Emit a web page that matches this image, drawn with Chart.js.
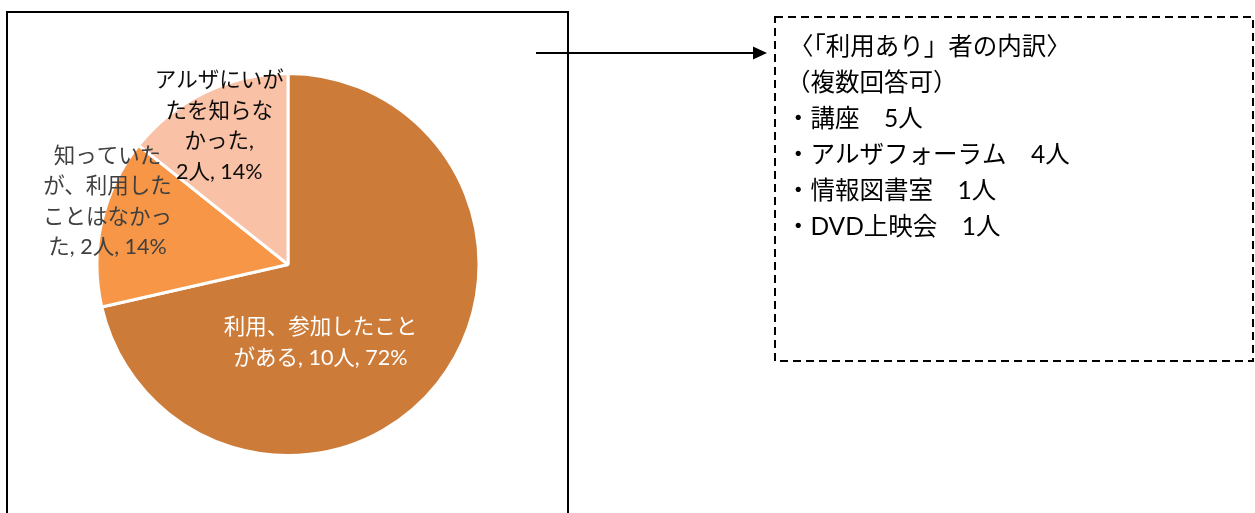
<!DOCTYPE html>
<html lang="ja">
<head>
<meta charset="utf-8">
<script src="https://cdn.jsdelivr.net/npm/chart.js@4/dist/chart.umd.min.js"></script>
<style>
  html, body { margin: 0; padding: 0; background: #fff; }
  #wrap { position: relative; width: 1255px; height: 513px; }
</style>
</head>
<body>
<div id="wrap"><canvas id="pie" width="1255" height="513"></canvas></div>
<script>
// data
const categories = ['利用、参加したことがある', '知っていたが、利用したことはなかった', 'アルザにいがたを知らなかった'];
const counts = [10, 2, 2];
const percents = [72, 14, 14];
const sliceColors = ['#CC7B39', '#F79646', '#F9C1A5'];

const breakdownTitle = ['〈「利用あり」者の内訳〉', '（複数回答可）'];
const breakdownItems = ['講座', 'アルザフォーラム', '情報図書室', 'DVD上映会'];
const breakdownCounts = [5, 4, 1, 1];

// label layout (fractions of radius from centre, line breaks)
const labelLayout = [
    { fx: 0.17, fy: 0.41, breaks: [9], color: '#ffffff' },
    { fx: -0.945, fy: -0.33, breaks: [5, 11, 17], color: '#404040' },
    { fx: -0.36, fy: -0.725, breaks: [6, 11, 15], color: '#0d0d0d' },
];

const FONT = "Lato, 'Noto Sans CJK JP', sans-serif";

function splitAt(str, breaks) {
    const chars = Array.from(str);
    const out = [];
    let start = 0;
    breaks.concat([chars.length]).forEach(b => {
        out.push(chars.slice(start, b).join('').trim());
        start = b;
    });
    return out;
}

const decorations = {
    id: 'decorations',
    afterDraw(chart) {
        const ctx = chart.ctx;
        ctx.save();

        // frame around the pie
        ctx.strokeStyle = '#000';
        ctx.lineWidth = 2;
        ctx.strokeRect(7, 12, 561, 520);

        // arrow
        ctx.beginPath();
        ctx.moveTo(536, 53);
        ctx.lineTo(755, 53);
        ctx.stroke();
        ctx.beginPath();
        ctx.moveTo(753, 46.5);
        ctx.lineTo(767, 53);
        ctx.lineTo(753, 59.5);
        ctx.closePath();
        ctx.fillStyle = '#000';
        ctx.fill();

        // dashed box
        ctx.setLineDash([8, 5]);
        ctx.strokeRect(775, 17, 478, 344);
        ctx.setLineDash([]);

        // breakdown text
        ctx.font = '24.5px ' + FONT;
        ctx.fillStyle = '#000';
        ctx.textAlign = 'left';
        ctx.textBaseline = 'middle';
        const lines = breakdownTitle.concat(
            breakdownItems.map((t, i) => '・' + t + '　' + breakdownCounts[i] + '人'));
        lines.forEach((t, i) => {
            const x = i === 0 ? 789 : 786;
            ctx.fillText(t, x, 47 + i * 36);
        });

        // slice labels
        const meta = chart.getDatasetMeta(0);
        ctx.font = '21.5px ' + FONT;
        ctx.textAlign = 'center';
        meta.data.forEach((arc, i) => {
            const lay = labelLayout[i];
            const full = categories[i] + ', ' + counts[i] + '人, ' + percents[i] + '%';
            const parts = splitAt(full, lay.breaks);
            const r = arc.outerRadius;
            const cx = arc.x + lay.fx * r;
            const cy = arc.y + lay.fy * r;
            const lh = 30.5;
            ctx.fillStyle = lay.color;
            parts.forEach((p, j) => {
                ctx.fillText(p, cx, cy + (j - (parts.length - 1) / 2) * lh);
            });
        });

        ctx.restore();
    }
};

new Chart(document.getElementById('pie'), {
    type: 'pie',
    data: {
        labels: categories,
        datasets: [{
            data: counts,
            backgroundColor: sliceColors,
            borderColor: '#ffffff',
            borderWidth: 3,
        }],
    },
    options: {
        responsive: false,
        animation: false,
        layout: { padding: { left: 95.5, right: 774.5, top: 72, bottom: 56 } },
        plugins: {
            legend: { display: false },
            tooltip: { enabled: false },
        },
    },
    plugins: [decorations],
});
</script>
</body>
</html>
